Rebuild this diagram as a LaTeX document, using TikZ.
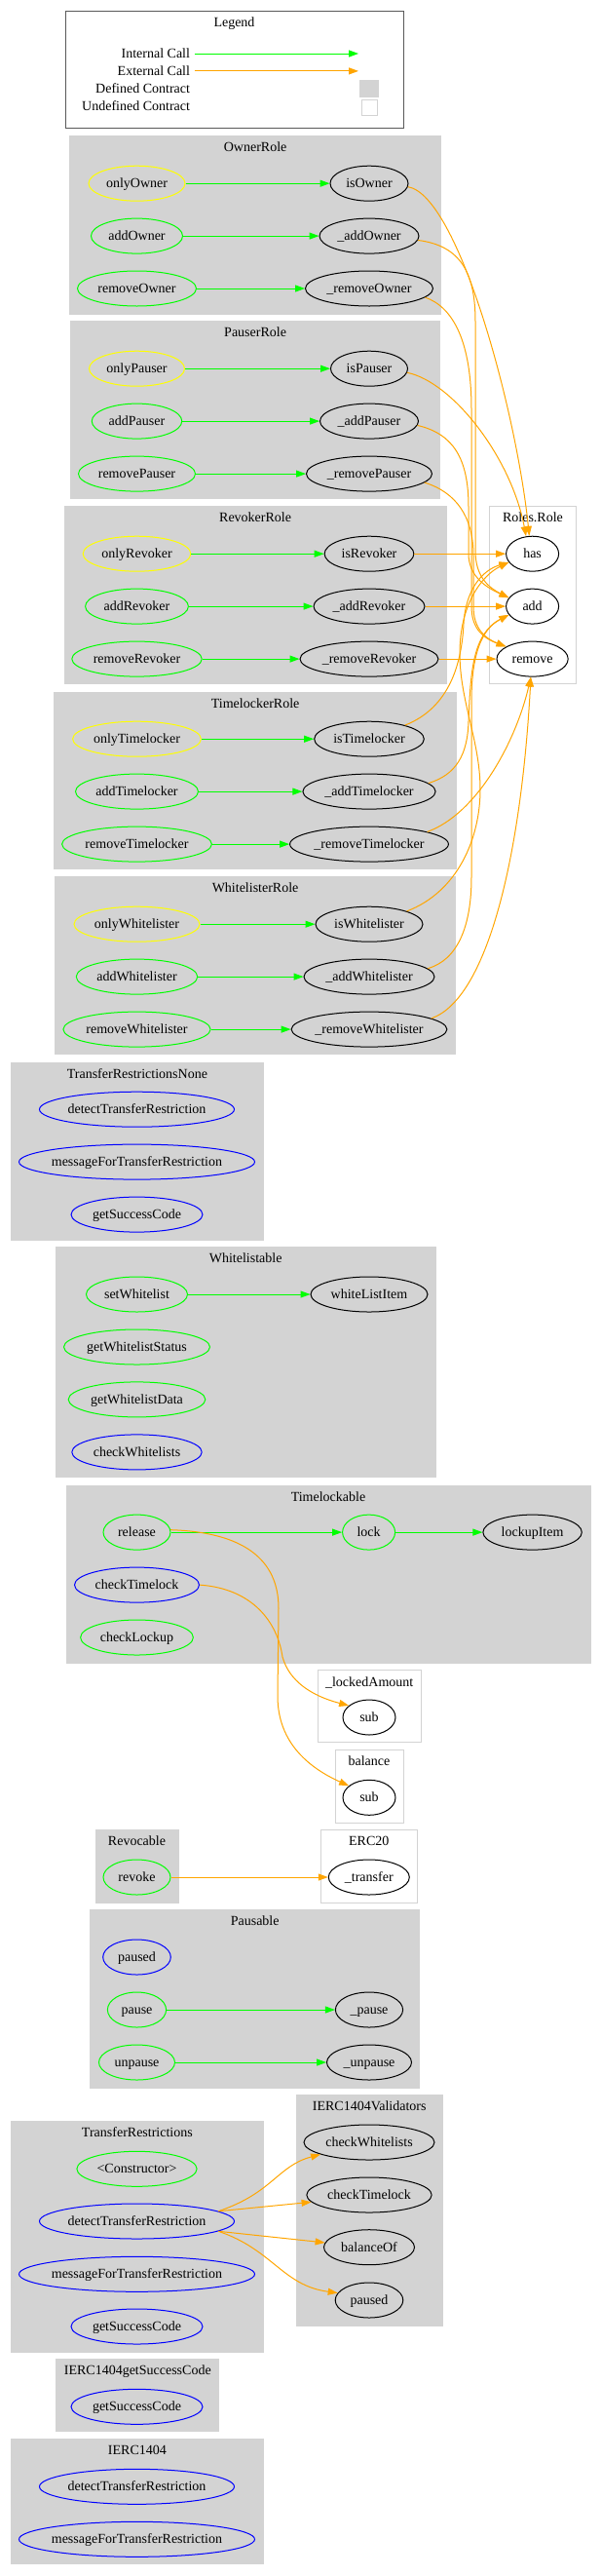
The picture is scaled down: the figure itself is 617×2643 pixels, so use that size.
\documentclass[tikz,border=0pt]{standalone}
\usepackage{fontspec}
\setmainfont{Liberation Serif}
\definecolor{gvgreen}{RGB}{0,255,0}
\definecolor{gvorange}{RGB}{255,165,0}
\definecolor{gvyellow}{RGB}{255,255,0}
\definecolor{gvblue}{RGB}{0,0,255}
\definecolor{gvgray}{RGB}{211,211,211}
\usetikzlibrary{arrows.meta,shapes.geometric}
\newcommand\gvfont{\fontsize{14bp}{16bp}\selectfont}

\begin{document}
\begin{tikzpicture}[x=1bp, y=-1bp,
    fn/.style={ellipse, draw=#1, line width=1bp, minimum height=36bp,
      inner xsep=-20bp, inner ysep=0pt, font=\gvfont, text height=11bp, text depth=2bp},
    ttl/.style={font=\gvfont, inner sep=0pt, text height=11bp, text depth=2bp},
    clu/.style={fill=gvgray, draw=gvgray, line width=1bp},
    ucl/.style={fill=white, draw=gvgray, line width=1bp},
    icall/.style={draw=gvgreen, line width=1bp, -{Triangle[length=10bp,width=7bp]}},
    ecall/.style={draw=gvorange, line width=1bp, -{Triangle[length=10bp,width=7bp]}}
  ]
    \useasboundingbox (0,0) rectangle (617,2643);

    % Legend
    \draw[line width=1bp, draw=black!65] (67.7,11.8) rectangle (414.4,131.4);
    \node[ttl] (lgTitle) at (240.5,23.2) {Legend};
    \node[ttl, anchor=east] (lgInt) at (195.2,55) {Internal Call};
    \node[ttl, anchor=east] (lgExt) at (195.2,72.9) {External Call};
    \node[ttl, anchor=east] (lgDef) at (195.2,91) {Defined Contract};
    \node[ttl, anchor=east] (lgUnd) at (195.2,109) {Undefined Contract};
    \coordinate (lgIntA) at (199.5,55);   \coordinate (lgIntB) at (368,55);
    \coordinate (lgExtA) at (199.5,72.9); \coordinate (lgExtB) at (368,72.9);
    \draw[icall] (lgIntA) -- (lgIntB);
    \draw[ecall] (lgExtA) -- (lgExtB);
    \node[fill=gvgray, inner sep=0pt, minimum width=20bp, minimum height=18bp] (lgDefBox) at (379,91) {};
    \node[draw=gvgray, fill=white, line width=1bp, inner sep=0pt, minimum width=16bp, minimum height=16bp] (lgUndBox) at (379,110) {};

    % OwnerRole
    \draw[clu] (71.6,139.3) rectangle (452.6,322);
    \node[ttl] (tOwner) at (262.1,151.4) {OwnerRole};
    \node[fn=gvyellow, minimum width=99bp]  (onlyOwner)    at (140.5,188.2) {onlyOwner};
    \node[fn=black,    minimum width=80bp]  (isOwner)      at (379,188.2)   {isOwner};
    \node[fn=gvgreen,  minimum width=94bp]  (addOwner)     at (140.5,242.1) {addOwner};
    \node[fn=black,    minimum width=102bp] (addOwnerI)    at (379,242.1)   {\_addOwner};
    \node[fn=gvgreen,  minimum width=122bp] (removeOwner)  at (140.5,296)   {removeOwner};
    \node[fn=black,    minimum width=131bp] (removeOwnerI) at (379,296)     {\_removeOwner};

    % PauserRole
    \draw[clu] (72.4,329.3) rectangle (451.8,511.8);
    \node[ttl] (tPauser) at (262.1,341.4) {PauserRole};
    \node[fn=gvyellow, minimum width=98bp]  (onlyPauser)    at (140.5,378.2) {onlyPauser};
    \node[fn=black,    minimum width=79bp]  (isPauser)      at (379,378.2)   {isPauser};
    \node[fn=gvgreen,  minimum width=92.5bp] (addPauser)    at (140.5,432.1) {addPauser};
    \node[fn=black,    minimum width=101bp] (addPauserI)    at (379,432.1)   {\_addPauser};
    \node[fn=gvgreen,  minimum width=120bp] (removePauser)  at (140.5,486.1) {removePauser};
    \node[fn=black,    minimum width=129bp] (removePauserI) at (379,486.1)   {\_removePauser};

    % RevokerRole
    \draw[clu] (66.1,519.6) rectangle (458.1,701.8);
    \node[ttl] (tRevoker) at (262.1,531.4) {RevokerRole};
    \node[fn=gvyellow, minimum width=110.6bp] (onlyRevoker)    at (140.5,568.2) {onlyRevoker};
    \node[fn=black,    minimum width=91.7bp]  (isRevoker)      at (379,568.2)   {isRevoker};
    \node[fn=gvgreen,  minimum width=105.8bp] (addRevoker)     at (140.5,622.1) {addRevoker};
    \node[fn=black,    minimum width=114bp]   (addRevokerI)    at (379,622.1)   {\_addRevoker};
    \node[fn=gvgreen,  minimum width=133.4bp] (removeRevoker)  at (140.5,676.1) {removeRevoker};
    \node[fn=black,    minimum width=142bp]   (removeRevokerI) at (379,676.1)   {\_removeRevoker};

    % Roles.Role -- undefined
    \draw[ucl] (502.6,519.6) rectangle (591.5,701.8);
    \node[ttl] (tRoles) at (547,531.4) {Roles.Role};
    \node[fn=black, minimum width=54bp]   (has)    at (546.6,568.2) {has};
    \node[fn=black, minimum width=54bp]   (add)    at (546.6,622.1) {add};
    \node[fn=black, minimum width=73.2bp] (remove) at (546.6,676.1) {remove};

    % TimelockerRole
    \draw[clu] (55.5,710) rectangle (468.7,891.8);
    \node[ttl] (tTimelocker) at (262.1,721.6) {TimelockerRole};
    \node[fn=gvyellow, minimum width=131.8bp] (onlyTimelocker)    at (140.5,758.2) {onlyTimelocker};
    \node[fn=black,    minimum width=112.6bp] (isTimelocker)      at (379,758.2)   {isTimelocker};
    \node[fn=gvgreen,  minimum width=126bp]   (addTimelocker)     at (140.5,812.1) {addTimelocker};
    \node[fn=black,    minimum width=136.2bp] (addTimelockerI)    at (379,812.1)   {\_addTimelocker};
    \node[fn=gvgreen,  minimum width=153.8bp] (removeTimelocker)  at (140.5,866.1) {removeTimelocker};
    \node[fn=black,    minimum width=162.8bp] (removeTimelockerI) at (379,866.1)   {\_removeTimelocker};

    % WhitelisterRole
    \draw[clu] (56.7,899.6) rectangle (467.5,1081.8);
    \node[ttl] (tWhitelister) at (262.1,911.4) {WhitelisterRole};
    \node[fn=gvyellow, minimum width=129bp]   (onlyWhitelister)    at (140.5,948.2)  {onlyWhitelister};
    \node[fn=black,    minimum width=110bp]   (isWhitelister)      at (379,948.2)    {isWhitelister};
    \node[fn=gvgreen,  minimum width=124.4bp] (addWhitelister)     at (140.5,1002.1) {addWhitelister};
    \node[fn=black,    minimum width=134bp]   (addWhitelisterI)    at (379,1002.1)   {\_addWhitelister};
    \node[fn=gvgreen,  minimum width=151.2bp] (removeWhitelister)  at (140.5,1056.1) {removeWhitelister};
    \node[fn=black,    minimum width=159.8bp] (removeWhitelisterI) at (379,1056.1)   {\_removeWhitelister};

    % TransferRestrictionsNone
    \draw[clu] (11.8,1090) rectangle (270,1272.1);
    \node[ttl] (tNone) at (140.9,1101.5) {TransferRestrictionsNone};
    \node[fn=gvblue, minimum width=200bp] (tnDetect)  at (140.5,1138.2) {detectTransferRestriction};
    \node[fn=gvblue, minimum width=242bp] (tnMessage) at (140.5,1192.1) {messageForTransferRestriction};
    \node[fn=gvblue, minimum width=135bp] (tnSuccess) at (140.5,1246.1) {getSuccessCode};

    % Whitelistable
    \draw[clu] (57.5,1279.4) rectangle (447,1515.9);
    \node[ttl] (tWhitelistable) at (252.2,1290.9) {Whitelistable};
    \node[fn=gvgreen, minimum width=104bp]   (setWhitelist)       at (140.5,1328)   {setWhitelist};
    \node[fn=black,   minimum width=120bp]   (whiteListItem)      at (379,1328)     {whiteListItem};
    \node[fn=gvgreen, minimum width=150bp]   (getWhitelistStatus) at (140.5,1382)   {getWhitelistStatus};
    \node[fn=gvgreen, minimum width=140.6bp] (getWhitelistData)   at (140.5,1435.9) {getWhitelistData};
    \node[fn=gvblue,  minimum width=133.4bp] (checkWhitelists)    at (140.5,1489.9) {checkWhitelists};

    % Timelockable
    \draw[clu] (68,1524) rectangle (606,1706);
    \node[ttl] (tTimelockable) at (337,1535.5) {Timelockable};
    \node[fn=gvgreen, minimum width=69bp]    (release)       at (140.5,1572.1) {release};
    \node[fn=gvgreen, minimum width=54bp]    (lock)          at (378.6,1572.1) {lock};
    \node[fn=black,   minimum width=101.4bp] (lockupItem)    at (546.6,1572.1) {lockupItem};
    \node[fn=gvblue,  minimum width=128bp]   (checkTimelock) at (140.5,1626.1) {checkTimelock};
    \node[fn=gvgreen, minimum width=115.7bp] (checkLockup)   at (140.5,1680)   {checkLockup};

    % _lockedAmount, balance -- undefined
    \draw[ucl] (326.3,1713.7) rectangle (432.1,1787.7);
    \node[ttl] (tLocked) at (379.2,1725.7) {\_lockedAmount};
    \node[fn=black, minimum width=54bp] (lsub) at (379,1762) {sub};
    \draw[ucl] (344,1795.7) rectangle (414,1870);
    \node[ttl] (tBalance) at (379,1807.3) {balance};
    \node[fn=black, minimum width=54bp] (bsub) at (379,1844.3) {sub};

    % Revocable, ERC20
    \draw[clu] (98,1877.7) rectangle (183,1952);
    \node[ttl] (tRevocable) at (140.5,1889.3) {Revocable};
    \node[fn=gvgreen, minimum width=69bp] (revoke) at (140.5,1926) {revoke};
    \draw[ucl] (329.4,1877.7) rectangle (428.2,1952);
    \node[ttl] (tERC) at (378.8,1889.3) {ERC20};
    \node[fn=black, minimum width=83bp] (transferI) at (378.8,1926) {\_transfer};

    % Pausable
    \draw[clu] (92.9,1959.7) rectangle (430.5,2142);
    \node[ttl] (tPausable) at (261.7,1971.3) {Pausable};
    \node[fn=gvblue,  minimum width=69.6bp] (paused)   at (140.5,2008) {paused};
    \node[fn=gvgreen, minimum width=60.2bp] (pause)    at (140.5,2062) {pause};
    \node[fn=black,   minimum width=69.2bp] (pauseI)   at (379,2062)   {\_pause};
    \node[fn=gvgreen, minimum width=78bp]   (unpause)  at (140.5,2116) {unpause};
    \node[fn=black,   minimum width=87bp]   (unpauseI) at (379,2116)   {\_unpause};

    % IERC1404Validators
    \draw[clu] (304.2,2149.7) rectangle (454.2,2386.3);
    \node[ttl] (tValidators) at (379.2,2161.3) {IERC1404Validators};
    \node[fn=black, minimum width=134bp]   (vWl)     at (379,2198)   {checkWhitelists};
    \node[fn=black, minimum width=128.3bp] (vTl)     at (379,2252)   {checkTimelock};
    \node[fn=black, minimum width=93bp]    (vBal)    at (379,2305.7) {balanceOf};
    \node[fn=black, minimum width=69.6bp]  (vPaused) at (379,2360)   {paused};

    % TransferRestrictions
    \draw[clu] (11.8,2176.7) rectangle (270,2413);
    \node[ttl] (tRestrictions) at (140.9,2188.3) {TransferRestrictions};
    \node[fn=gvgreen, minimum width=123.2bp] (trCtor)    at (140.5,2225.3) {<Constructor>};
    \node[fn=gvblue,  minimum width=200bp]   (trDetect)  at (140.5,2279)   {detectTransferRestriction};
    \node[fn=gvblue,  minimum width=242bp]   (trMessage) at (140.5,2333.3) {messageForTransferRestriction};
    \node[fn=gvblue,  minimum width=135bp]   (trSuccess) at (140.5,2387)   {getSuccessCode};

    % IERC1404getSuccessCode
    \draw[clu] (57.9,2420.7) rectangle (224.7,2494.7);
    \node[ttl] (tGetCode) at (141.3,2432.3) {IERC1404getSuccessCode};
    \node[fn=gvblue, minimum width=135bp] (gsSuccess) at (140.5,2469.3) {getSuccessCode};

    % IERC1404
    \draw[clu] (11.8,2502.7) rectangle (270,2630.7);
    \node[ttl] (tIERC) at (140.9,2514.3) {IERC1404};
    \node[fn=gvblue, minimum width=200bp] (ieDetect)  at (140.5,2551.3) {detectTransferRestriction};
    \node[fn=gvblue, minimum width=242bp] (ieMessage) at (140.5,2605.3) {messageForTransferRestriction};

    % Internal calls
    \draw[icall] (onlyOwner) -- (isOwner);
    \draw[icall] (addOwner) -- (addOwnerI);
    \draw[icall] (removeOwner) -- (removeOwnerI);
    \draw[icall] (onlyPauser) -- (isPauser);
    \draw[icall] (addPauser) -- (addPauserI);
    \draw[icall] (removePauser) -- (removePauserI);
    \draw[icall] (onlyRevoker) -- (isRevoker);
    \draw[icall] (addRevoker) -- (addRevokerI);
    \draw[icall] (removeRevoker) -- (removeRevokerI);
    \draw[icall] (onlyTimelocker) -- (isTimelocker);
    \draw[icall] (addTimelocker) -- (addTimelockerI);
    \draw[icall] (removeTimelocker) -- (removeTimelockerI);
    \draw[icall] (onlyWhitelister) -- (isWhitelister);
    \draw[icall] (addWhitelister) -- (addWhitelisterI);
    \draw[icall] (removeWhitelister) -- (removeWhitelisterI);
    \draw[icall] (setWhitelist) -- (whiteListItem);
    \draw[icall] (release) -- (lock);
    \draw[icall] (lock) -- (lockupItem);
    \draw[icall] (pause) -- (pauseI);
    \draw[icall] (unpause) -- (unpauseI);

    % External calls -- Roles.Role
    \draw[ecall] (isOwner.-5) .. controls (470,200) and (530,420) .. (has.100);
    \draw[ecall] (isPauser.-6) .. controls (465,392) and (525,470) .. (has.110);
    \draw[ecall] (addOwnerI.-5) .. controls (473,252) and (488,280) .. (488,330) -- (488,565) .. controls (488,592) and (502,603) .. (add.160);
    \draw[ecall] (removeOwnerI.-9) .. controls (465,315) and (484,350) .. (484,420) -- (484,622) .. controls (484,646) and (497,655) .. (remove.155);
    \draw[ecall] (addPauserI.-5) .. controls (465,445) and (481,470) .. (481,520) -- (481,568) .. controls (481,592) and (500,603) .. (add.160);
    \draw[ecall] (removePauserI.-9) .. controls (468,505) and (486,530) .. (486,570) -- (486,622) .. controls (486,645) and (498,655) .. (remove.155);
    \draw[ecall] (isRevoker) -- (has);
    \draw[ecall] (addRevokerI) -- (add);
    \draw[ecall] (removeRevokerI) -- (remove);
    \draw[ecall] (isTimelocker.21) .. controls (462,726) and (474,680) .. (476,640) .. controls (478,605) and (495,585) .. (has.200);
    \draw[ecall] (addTimelockerI.8) .. controls (468,795) and (480,775) .. (481,740) .. controls (483,690) and (485,650) .. (add.200);
    \draw[ecall] (removeTimelockerI.12) .. controls (490,835) and (530,760) .. (remove.-95);
    \draw[ecall] (isWhitelister.19) .. controls (470,915) and (493,860) .. (493,810) .. controls (493,760) and (472,720) .. (472,670) .. controls (472,620) and (495,590) .. (has.200);
    \draw[ecall] (addWhitelisterI.8) .. controls (470,985) and (484,950) .. (484,900) -- (484,720) .. controls (484,670) and (495,645) .. (add.200);
    \draw[ecall] (removeWhitelisterI.10) .. controls (500,1025) and (535,880) .. (remove.-95);

    % External calls -- the rest
    \draw[ecall] (release.4) .. controls (250,1572) and (286,1600) .. (286,1650) -- (285,1740) .. controls (285,1790) and (320,1815) .. (bsub.150);
    \draw[ecall] (checkTimelock.east) .. controls (260,1630) and (285,1665) .. (290,1700) .. controls (297,1725) and (320,1740) .. (lsub.150);
    \draw[ecall] (revoke) -- (transferI);
    \draw[ecall] (trDetect.7) .. controls (280,2250) and (285,2222) .. (vWl.194);
    \draw[ecall] (trDetect.7) -- (vTl.187);
    \draw[ecall] (trDetect.-7) -- (vBal.174);
    \draw[ecall] (trDetect.-7) .. controls (280,2308) and (290,2345) .. (vPaused.167);
  \end{tikzpicture}
\end{document}
